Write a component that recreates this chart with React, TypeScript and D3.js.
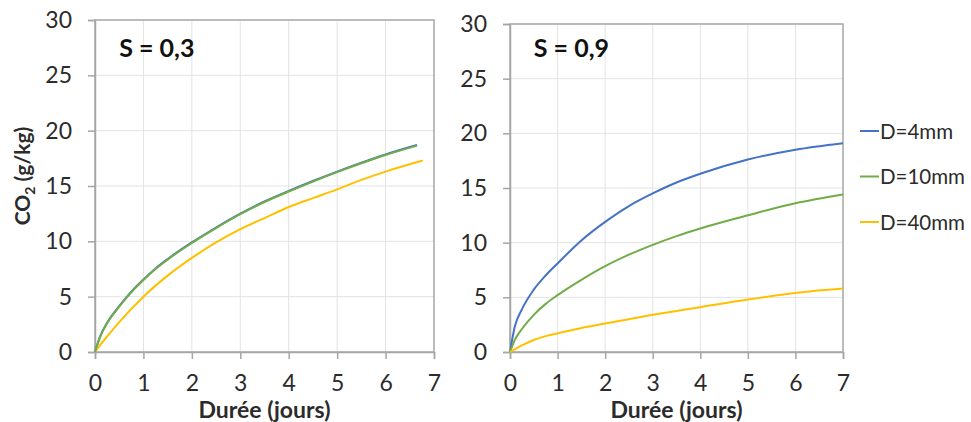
import * as d3 from 'd3';
import { useEffect, useRef } from 'react';

// x values (days) and CO2 (g/kg)
const leftDays = [0, 0.1, 0.25, 0.5, 0.75, 1, 1.25, 1.5, 2, 2.5, 3, 3.5, 4, 4.5, 5, 5.5, 6, 6.65];
const leftBlue = [0, 1.35, 2.65, 4.15, 5.45, 6.55, 7.55, 8.4, 9.9, 11.25, 12.5, 13.6, 14.55, 15.45, 16.3, 17.1, 17.85, 18.7];
const leftGreen = [0, 1.3, 2.6, 4.1, 5.4, 6.5, 7.5, 8.35, 9.85, 11.2, 12.45, 13.55, 14.5, 15.4, 16.25, 17.05, 17.8, 18.65];
const leftYellowDays = [0, 0.1, 0.25, 0.5, 1, 1.5, 2, 2.5, 3, 3.5, 4, 4.5, 5, 5.5, 6, 6.77];
const leftYellow = [0, 0.6, 1.4, 2.7, 5.0, 6.9, 8.5, 9.9, 11.1, 12.1, 13.1, 13.9, 14.7, 15.55, 16.3, 17.3];

const rightDays = [0, 0.1, 0.25, 0.5, 0.75, 1, 1.5, 2, 2.5, 3, 3.5, 4, 5, 6, 7];
const rightBlue = [0, 2.3, 3.9, 5.7, 7.0, 8.1, 10.2, 11.9, 13.35, 14.5, 15.5, 16.3, 17.6, 18.5, 19.1];
const rightGreen = [0, 1.1, 2.1, 3.4, 4.4, 5.2, 6.6, 7.85, 8.9, 9.8, 10.6, 11.3, 12.5, 13.6, 14.4];
const rightYellow = [0, 0.25, 0.6, 1.1, 1.45, 1.7, 2.2, 2.6, 3.0, 3.4, 3.75, 4.1, 4.8, 5.4, 5.8];

const seriesNames = ['D=4mm', 'D=10mm', 'D=40mm'];
const seriesColors = ['#4472c4', '#70ad47', '#ffc000'];
const xTicks = [0, 1, 2, 3, 4, 5, 6, 7];
const yTicks = [0, 5, 10, 15, 20, 25, 30];

const FONT = 'Lato, "Open Sans", sans-serif';

function drawPanel(svg, box, title, series, withYLabel) {
  const x = d3.scaleLinear().domain([0, 7]).range([box.left, box.right]);
  const y = d3.scaleLinear().domain([0, 30]).range([box.bottom, box.top]);
  const g = svg.append('g');

  // grid
  g.selectAll('.gx').data(xTicks.slice(1, -1)).join('line')
    .attr('x1', d => x(d)).attr('x2', d => x(d))
    .attr('y1', box.top).attr('y2', box.bottom)
    .attr('stroke', '#e3e3e3').attr('stroke-width', 1);
  g.selectAll('.gy').data(yTicks.slice(1, -1)).join('line')
    .attr('x1', box.left).attr('x2', box.right)
    .attr('y1', d => y(d)).attr('y2', d => y(d))
    .attr('stroke', '#e3e3e3').attr('stroke-width', 1);

  // frame
  g.append('rect')
    .attr('x', box.left).attr('y', box.top)
    .attr('width', box.right - box.left).attr('height', box.bottom - box.top)
    .attr('fill', 'none').attr('stroke', '#a6a6a6').attr('stroke-width', 1.5);

  const xAxis = g.append('g')
    .attr('transform', `translate(0,${box.bottom})`)
    .call(d3.axisBottom(x).tickValues(xTicks).tickFormat(d3.format('d')).tickSize(7).tickPadding(16));
  const yAxis = g.append('g')
    .attr('transform', `translate(${box.left},0)`)
    .call(d3.axisLeft(y).tickValues(yTicks).tickFormat(d3.format('d')).tickSize(7).tickPadding(16));
  [xAxis, yAxis].forEach(a => {
    a.select('.domain').attr('stroke', '#a6a6a6').attr('stroke-width', 1.5);
    a.selectAll('.tick line').attr('stroke', '#a6a6a6').attr('stroke-width', 1.5);
    a.selectAll('.tick text')
      .attr('font-family', FONT).attr('font-size', 23).attr('fill', '#2b2b2b');
  });

  const line = d3.line().x(d => x(d[0])).y(d => y(d[1])).curve(d3.curveMonotoneX);
  series.forEach(s => {
    g.append('path')
      .datum(s.xs.map((v, i) => [v, s.ys[i]]))
      .attr('fill', 'none')
      .attr('stroke', s.color)
      .attr('stroke-width', 2)
      .attr('d', line);
  });

  g.append('text')
    .attr('x', x(0.5)).attr('y', 57)
    .attr('font-family', FONT).attr('font-weight', 700).attr('font-size', 25)
    .attr('fill', '#111')
    .text(title);

  g.append('text')
    .attr('x', (box.left + box.right) / 2).attr('y', 418)
    .attr('text-anchor', 'middle')
    .attr('font-family', FONT).attr('font-weight', 700).attr('font-size', 23)
    .attr('fill', '#2b2b2b')
    .text('Durée (jours)');

  if (withYLabel) {
    const t = g.append('text')
      .attr('transform', `translate(30,${(box.top + box.bottom) / 2 - 10}) rotate(-90)`)
      .attr('text-anchor', 'middle')
      .attr('font-family', FONT).attr('font-weight', 700).attr('font-size', 21)
      .attr('fill', '#2b2b2b');
    t.append('tspan').text('CO');
    t.append('tspan').attr('font-size', 14).attr('dy', 5).text('2');
    t.append('tspan').attr('dy', -5).text(' (g/kg)');
  }
}

function App() {
  const svgRef = useRef();

  useEffect(() => {
    const svg = d3.select(svgRef.current);
    svg.selectAll('*').remove();

    drawPanel(svg, { left: 95, right: 434, top: 20, bottom: 352 }, 'S = 0,3', [
      { xs: leftDays, ys: leftBlue, color: seriesColors[0] },
      { xs: leftYellowDays, ys: leftYellow, color: seriesColors[2] },
      { xs: leftDays, ys: leftGreen, color: seriesColors[1] },
    ], true);

    drawPanel(svg, { left: 510, right: 843, top: 24, bottom: 352 }, 'S = 0,9', [
      { xs: rightDays, ys: rightBlue, color: seriesColors[0] },
      { xs: rightDays, ys: rightGreen, color: seriesColors[1] },
      { xs: rightDays, ys: rightYellow, color: seriesColors[2] },
    ], false);

    // legend
    const legend = svg.append('g').attr('transform', 'translate(860,131)');
    seriesNames.forEach((name, i) => {
      const row = legend.append('g').attr('transform', `translate(0,${i * 45.5})`);
      row.append('line').attr('x1', 0).attr('x2', 19).attr('y1', 0).attr('y2', 0)
        .attr('stroke', seriesColors[i]).attr('stroke-width', 2);
      row.append('text').attr('x', 20).attr('y', 7.5)
        .attr('font-family', FONT).attr('font-size', 20.5).attr('fill', '#2b2b2b')
        .text(name);
    });
  }, []);

  return (
    <svg ref={svgRef} width={971} height={422}
      style={{ position: 'absolute', left: 0, top: 0, background: '#fff' }} />
  );
}

export default App;
